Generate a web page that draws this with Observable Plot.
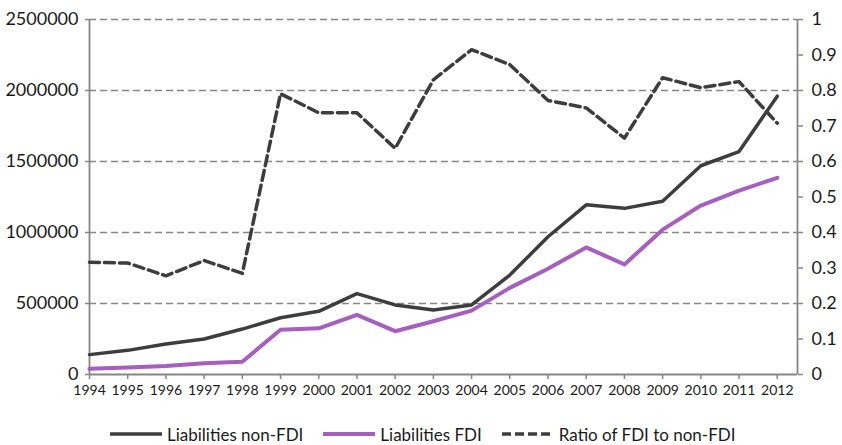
<!DOCTYPE html>
<html>
<head>
<meta charset="utf-8">
<script src="https://cdn.jsdelivr.net/npm/d3@7"></script>
<script src="https://cdn.jsdelivr.net/npm/@observablehq/plot@0.6"></script>
<style>
  html, body { margin: 0; padding: 0; background: #fff; }
  body { width: 842px; font-family: Lato, "Open Sans", sans-serif; }
  #legend { display: flex; align-items: center; padding-left: 110px; height: 30px; margin-top: 4px; font-size: 17px; color: #1a1a1a; }
  .item { display: flex; align-items: center; }
  .item svg { margin-right: 5px; }
  .item + .item { margin-left: 20px; }
</style>
</head>
<body>
<div id="chart"></div>
<div id="legend"></div>
<script>
const years = [1994,1995,1996,1997,1998,1999,2000,2001,2002,2003,2004,2005,2006,2007,2008,2009,2010,2011,2012];
const nonFDI = [140000,170000,215000,250000,320000,400000,445000,570000,490000,455000,490000,700000,970000,1195000,1170000,1220000,1470000,1570000,1960000];
const fdi = [40000,50000,60000,80000,90000,315000,325000,420000,305000,375000,450000,610000,745000,895000,775000,1020000,1190000,1295000,1385000];
const ratio = [0.316,0.314,0.278,0.321,0.285,0.791,0.737,0.737,0.637,0.830,0.915,0.873,0.772,0.751,0.666,0.836,0.808,0.825,0.708];
const leftTicks = [0,500000,1000000,1500000,2000000,2500000];
const gridTicks = [500000,1000000,1500000,2000000,2500000];
const rightTicks = [0,0.1,0.2,0.3,0.4,0.5,0.6,0.7,0.8,0.9,1];
const seriesNames = ["Liabilities non-FDI","Liabilities FDI","Ratio of FDI to non-FDI"];
const xDomain = [1994, 2012.53];
const yMax = 2500000;

const rows = years.map((y,i) => ({year: y, nonFDI: nonFDI[i], fdi: fdi[i], ratio: ratio[i]}));

const dark = "#3d3d3d", purple = "#a65fbe", axisGray = "#868686";

const chart = Plot.plot({
  width: 842,
  height: 415,
  marginLeft: 89,
  marginRight: 45,
  marginTop: 19,
  marginBottom: 41,
  style: {fontFamily: "Lato, 'Open Sans', sans-serif", color: "#1a1a1a", background: "#fff"},
  x: {domain: xDomain},
  y: {domain: [0, yMax]},
  marks: [
    Plot.ruleY(gridTicks, {stroke: axisGray, strokeWidth: 1.6, strokeDasharray: "7,4"}),
    Plot.ruleY([0], {stroke: axisGray, strokeWidth: 1.8}),
    Plot.ruleX(xDomain, {stroke: axisGray, strokeWidth: 1.8}),
    Plot.axisY(leftTicks, {anchor: "left", tickSize: 4, tickPadding: 7, fontSize: 18, stroke: axisGray, strokeWidth: 1.5, tickFormat: d => String(d), label: null}),
    Plot.axisY(rightTicks.map(t => t * yMax), {anchor: "right", tickSize: 5, tickPadding: 9, fontSize: 18, stroke: axisGray, strokeWidth: 1.5, tickFormat: d => String(Math.round(d / yMax * 10) / 10), label: null}),
    Plot.axisX(years, {anchor: "bottom", tickSize: 5, tickPadding: 6, fontSize: 14, stroke: axisGray, strokeWidth: 1.5, tickFormat: d => String(d), label: null}),
    Plot.line(rows, {x: "year", y: "nonFDI", stroke: dark, strokeWidth: 3.5, strokeLinejoin: "round"}),
    Plot.line(rows, {x: "year", y: "fdi", stroke: purple, strokeWidth: 4, strokeLinejoin: "round"}),
    Plot.line(rows, {x: "year", y: d => d.ratio * yMax, stroke: dark, strokeWidth: 3.5, strokeDasharray: "10,5", strokeLinejoin: "round"})
  ]
});
document.getElementById("chart").appendChild(chart);

const legendStyles = [
  {stroke: dark, width: 3.5, dash: null},
  {stroke: purple, width: 4, dash: null},
  {stroke: dark, width: 3.5, dash: "9,4"}
];
const legend = document.getElementById("legend");
seriesNames.forEach((name, i) => {
  const s = legendStyles[i];
  const item = document.createElement("div");
  item.className = "item";
  item.innerHTML = `<svg width="52" height="10"><line x1="0" y1="5" x2="52" y2="5" stroke="${s.stroke}" stroke-width="${s.width}" ${s.dash ? `stroke-dasharray="${s.dash}"` : ""}/></svg><span>${name}</span>`;
  legend.appendChild(item);
});
</script>
</body>
</html>
